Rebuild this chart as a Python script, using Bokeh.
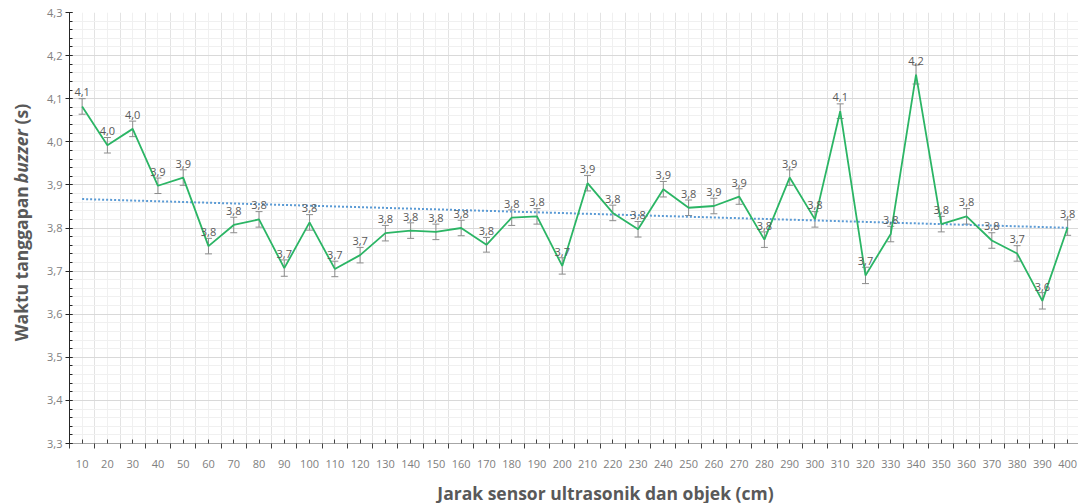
import numpy as np
from bokeh.plotting import figure
from bokeh.layouts import row, column
from bokeh.models import (ColumnDataSource, FixedTicker, CustomJSTickFormatter,
                          Whisker, TeeHead, Label, Range1d)
from bokeh.core.properties import value
from bokeh.embed import file_html
from bokeh.resources import INLINE

# ---- data -------------------------------------------------------------
jarak = [10, 20, 30, 40, 50, 60, 70, 80, 90, 100,
         110, 120, 130, 140, 150, 160, 170, 180, 190, 200,
         210, 220, 230, 240, 250, 260, 270, 280, 290, 300,
         310, 320, 330, 340, 350, 360, 370, 380, 390, 400]
waktu = [4.082, 3.992, 4.030, 3.898, 3.917, 3.758, 3.807, 3.820, 3.707, 3.813,
         3.705, 3.737, 3.788, 3.794, 3.791, 3.800, 3.761, 3.824, 3.827, 3.712,
         3.904, 3.835, 3.797, 3.890, 3.847, 3.851, 3.873, 3.773, 3.917, 3.820,
         4.071, 3.690, 3.786, 4.156, 3.809, 3.827, 3.771, 3.741, 3.631, 3.801]
galat = [0.018, 0.018, 0.018, 0.018, 0.018, 0.018, 0.018, 0.018, 0.019, 0.018,
         0.018, 0.018, 0.018, 0.018, 0.018, 0.018, 0.017, 0.018, 0.018, 0.019,
         0.018, 0.018, 0.018, 0.018, 0.018, 0.018, 0.018, 0.018, 0.018, 0.018,
         0.017, 0.019, 0.018, 0.022, 0.018, 0.018, 0.018, 0.018, 0.019, 0.018]

idx = list(range(len(jarak)))
label_txt = [f"{v:.1f}".replace(".", ",") for v in waktu]

src = ColumnDataSource(dict(
    x=idx, y=waktu,
    upper=[v + e for v, e in zip(waktu, galat)],
    lower=[v - e for v, e in zip(waktu, galat)],
    lab=label_txt,
))

# linear trendline (least squares on the data)
k, b = np.polyfit(idx, waktu, 1)
trend_x = [idx[0], idx[-1]]
trend_y = [k * t + b for t in trend_x]

H_MAIN = 477
LEFT_W = 43

# ---- main figure ------------------------------------------------------
p = figure(width=1078 - LEFT_W, height=H_MAIN, output_backend="svg",
           toolbar_location=None,
           x_range=Range1d(-0.5, 39.43), y_range=Range1d(3.3, 4.3),
           min_border_left=26, min_border_right=0, min_border_top=12,
           min_border_bottom=34)
p.outline_line_color = None

# y axis
y_major = [round(3.3 + 0.1 * i, 1) for i in range(11)]
y_minor = [round(3.3 + 0.02 * i, 2) for i in range(51)]
yt = FixedTicker(ticks=y_major, minor_ticks=y_minor)
p.yaxis.ticker = yt
p.yaxis.formatter = CustomJSTickFormatter(code="return tick.toFixed(1).replace('.', ',');")
p.yaxis.axis_line_color = "#262626"
p.yaxis.major_tick_line_color = "#262626"
p.yaxis.minor_tick_line_color = "#262626"
p.yaxis.major_tick_out = 4
p.yaxis.major_tick_in = 3
p.yaxis.minor_tick_out = 0
p.yaxis.minor_tick_in = 3
p.yaxis.major_label_standoff = 3
p.yaxis.major_label_text_font = "Open Sans"
p.yaxis.major_label_text_font_size = "11px"
p.yaxis.major_label_text_color = "#808080"

# x axis
bounds = [i - 0.5 for i in range(len(jarak) + 1)]
xt = FixedTicker(ticks=idx, minor_ticks=bounds)
p.xaxis.ticker = xt
p.xaxis.major_label_overrides = {i: str(d) for i, d in zip(idx, jarak)}
p.xaxis.axis_line_color = "#a6a6a6"
p.xaxis.major_tick_line_color = "#404040"
p.xaxis.minor_tick_line_color = "#404040"
p.xaxis.major_tick_in = 4
p.xaxis.major_tick_out = 0
p.xaxis.minor_tick_in = 0
p.xaxis.minor_tick_out = 5
p.xaxis.major_label_standoff = 11
p.xaxis.major_label_text_font = "Open Sans"
p.xaxis.major_label_text_font_size = "11px"
p.xaxis.major_label_text_color = "#808080"

# grids
p.ygrid.ticker = yt
p.ygrid.grid_line_color = "#d9d9d9"
p.ygrid.minor_grid_line_color = "#f0f0f0"
p.xgrid.ticker = FixedTicker(ticks=bounds, minor_ticks=idx)
p.xgrid.grid_line_color = "#e3e3e3"
p.xgrid.minor_grid_line_color = "#f0f0f0"

# error bars
eb_col = "#8c8c8c"
w = Whisker(source=src, base="x", upper="upper", lower="lower",
            line_color=eb_col, line_width=1,
            upper_head=TeeHead(size=7, line_color=eb_col, line_width=1),
            lower_head=TeeHead(size=7, line_color=eb_col, line_width=1))
p.add_layout(w)

# trendline
p.line(trend_x, trend_y, line_color="#5b9bd5", line_width=2, line_dash="2 2")

# main series
p.line("x", "y", source=src, line_color="#2bb565", line_width=1.8)

# data labels
p.text("x", "y", text="lab", source=src, text_font=value("Open Sans"),
       text_font_size="11px", text_color="#595959", text_align="center",
       text_baseline="middle", y_offset=-14)

title_col = "#595959"

# ---- left strip: y-axis title (mixed upright / italic) -----------------
def blank_fig(w_, h_):
    f = figure(width=w_, height=h_, output_backend="svg", toolbar_location=None,
               x_range=Range1d(0, w_), y_range=Range1d(0, h_),
               min_border=0, min_border_left=0, min_border_right=0,
               min_border_top=0, min_border_bottom=0)
    f.axis.visible = False
    f.grid.visible = False
    f.outline_line_color = None
    return f

left = blank_fig(LEFT_W, H_MAIN)
fs = 17.5
# approximate advance lengths (in em) of each piece in Open Sans Bold
parts = [("Waktu tanggapan ", "bold", 10.0), ("buzzer", "bold italic", 3.72),
         (" (s)", "bold", 1.59)]
total = sum(pw for _, _, pw in parts) * fs
start = 230 + total / 2.0          # page y of the text start (bottom)
for txt, style, pw in parts:
    left.add_layout(Label(x=20, y=H_MAIN - start, text=txt, angle=np.pi / 2,
                          text_font="Open Sans", text_font_size=f"{fs}px",
                          text_font_style=style, text_color=title_col,
                          text_align="left", text_baseline="middle"))
    start -= pw * fs

# ---- bottom strip: x-axis title ----------------------------------------
BOT_H = 503 - H_MAIN
bottom = blank_fig(1078, BOT_H)
bottom.add_layout(Label(x=605, y=BOT_H - (492 - H_MAIN),
                        text="Jarak sensor ultrasonik dan objek (cm)",
                        text_font="Open Sans", text_font_size="17.5px",
                        text_font_style="bold", text_color=title_col,
                        text_align="center", text_baseline="middle"))

layout = column(row(left, p, spacing=0), bottom, spacing=0)

open("out.html", "w").write(file_html(layout, INLINE))
